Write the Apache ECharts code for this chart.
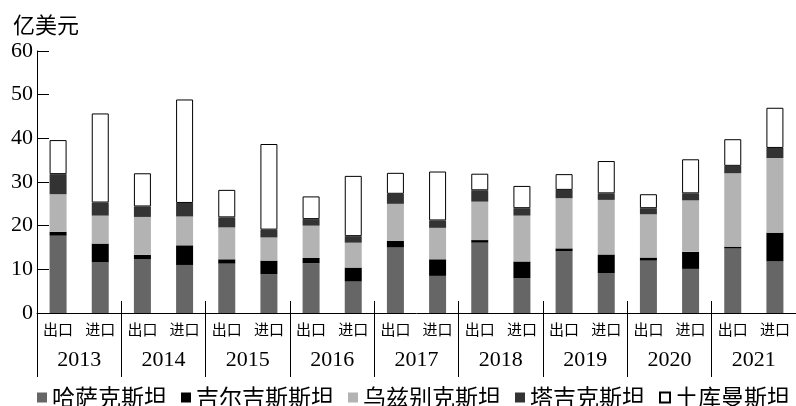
<!DOCTYPE html>
<html>
<head>
<meta charset="utf-8">
<script src="https://cdn.jsdelivr.net/npm/echarts@6/dist/echarts.min.js"></script>
<style>
  html, body { margin: 0; padding: 0; background: #fff; }
  #main { width: 796px; height: 406px; }
</style>
</head>
<body>
<div id="main"></div>
<script>
// 出口 / 进口 for each year
const categories = ['出口', '进口', '出口', '进口', '出口', '进口', '出口', '进口', '出口', '进口',
                    '出口', '进口', '出口', '进口', '出口', '进口', '出口', '进口'];
const years = ['2013', '2014', '2015', '2016', '2017', '2018', '2019', '2020', '2021'];
const yTicks = [0, 10, 20, 30, 40, 50, 60];

// 亿美元
const kazakhstan   = [17.7, 11.6, 12.3, 11.0, 11.3, 8.9, 11.4, 7.2, 15.0, 8.5, 16.1, 8.0, 14.1, 9.1, 12.0, 10.1, 14.8, 11.8];
const kyrgyzstan   = [0.9, 4.3, 1.0, 4.5, 1.0, 3.1, 1.2, 3.2, 1.5, 3.8, 0.6, 3.8, 0.7, 4.3, 0.7, 3.9, 0.4, 6.6];
const uzbekistan   = [8.6, 6.4, 8.7, 6.6, 7.3, 5.3, 7.4, 5.7, 8.5, 7.2, 8.8, 10.5, 11.5, 12.5, 9.9, 11.8, 16.8, 17.1];
const tajikistan   = [4.6, 3.0, 2.4, 3.1, 2.3, 1.8, 1.5, 1.5, 2.3, 1.7, 2.6, 1.7, 1.9, 1.5, 1.4, 1.6, 1.7, 2.3];
const turkmenistan = [7.8, 20.4, 7.6, 23.7, 6.3, 19.6, 5.2, 13.8, 4.8, 11.2, 3.8, 5.1, 3.6, 7.4, 3.2, 7.8, 6.1, 9.2];

const cjk = '"Noto Sans CJK SC", sans-serif';
const serif = '"Liberation Serif", "DejaVu Serif", serif';

function barSeries(name, data, color, border) {
    return {
        name: name,
        type: 'bar',
        stack: 'total',
        barWidth: 17,
        data: data,
        itemStyle: {
            color: color,
            borderColor: border || color,
            borderWidth: border ? 1 : 0
        }
    };
}

const chart = echarts.init(document.getElementById('main'));

const gridBox = { left: 37, right: -6, top: 51, bottom: 93 };

const option = {
    animation: false,
    backgroundColor: '#fff',
    title: {
        text: '亿美元',
        left: 8,
        top: 9,
        textStyle: { fontFamily: cjk, fontSize: 22, fontWeight: 'normal', color: '#000' }
    },
    legend: {
        left: 32,
        top: 381,
        icon: 'rect',
        itemWidth: 10,
        itemHeight: 10,
        itemGap: 14,
        textStyle: { fontFamily: cjk, fontSize: 23, color: '#000' },
        data: ['哈萨克斯坦', '吉尔吉斯斯坦', '乌兹别克斯坦', '塔吉克斯坦', '土库曼斯坦']
    },
    grid: [
        Object.assign({}, gridBox),
        Object.assign({}, gridBox)
    ],
    xAxis: [
        {
            type: 'category',
            gridIndex: 0,
            data: categories,
            axisLine: { lineStyle: { color: '#000', width: 1 } },
            axisTick: {
                show: true,
                inside: true,
                length: 12,
                interval: function (i) { return i % 2 === 0; },
                lineStyle: { color: '#000' }
            },
            axisLabel: {
                interval: 0,
                margin: 9,
                fontFamily: cjk,
                fontSize: 15,
                color: '#000'
            }
        },
        {
            type: 'category',
            gridIndex: 1,
            data: years,
            axisLine: { show: false },
            axisTick: { show: true, length: 64, lineStyle: { color: '#000' } },
            axisLabel: {
                interval: 0,
                margin: 36,
                fontFamily: serif,
                fontSize: 22,
                color: '#000'
            }
        }
    ],
    yAxis: [
        {
            type: 'value',
            gridIndex: 0,
            min: yTicks[0],
            max: yTicks[yTicks.length - 1],
            interval: 10,
            splitLine: { show: false },
            axisLine: { show: true, lineStyle: { color: '#000' } },
            axisTick: { show: true, inside: true, length: 12, lineStyle: { color: '#000' } },
            axisLabel: {
                margin: 4,
                fontFamily: serif,
                fontSize: 22,
                color: '#000'
            }
        },
        {
            type: 'value',
            gridIndex: 1,
            show: false
        }
    ],
    series: [
        barSeries('哈萨克斯坦', kazakhstan, '#666666'),
        barSeries('吉尔吉斯斯坦', kyrgyzstan, '#000000'),
        barSeries('乌兹别克斯坦', uzbekistan, '#b3b3b3'),
        barSeries('塔吉克斯坦', tajikistan, '#333333'),
        barSeries('土库曼斯坦', turkmenistan, '#ffffff', '#000000')
    ]
};

chart.setOption(option);
</script>
</body>
</html>
